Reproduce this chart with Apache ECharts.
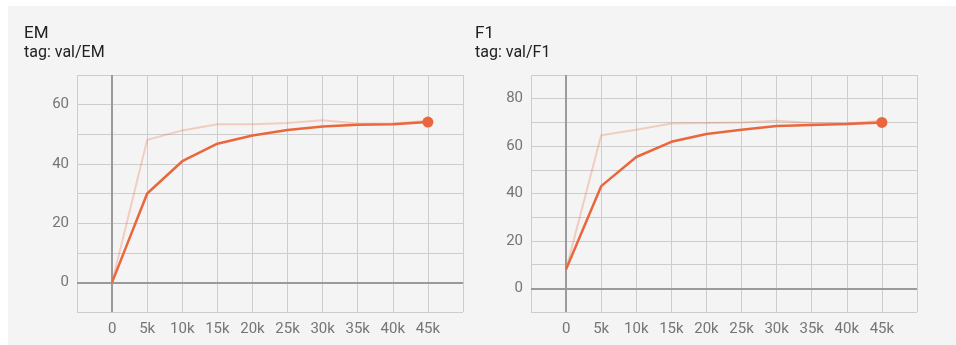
<!DOCTYPE html>
<html>
<head>
<meta charset="utf-8">
<script src="https://cdn.jsdelivr.net/npm/echarts@6/dist/echarts.min.js"></script>
<style>
html,body{margin:0;padding:0;background:#ffffff;}
#chart{width:956px;height:345px;}
</style>
</head>
<body>
<div id="chart"></div>
<script>
// ---- data ----
var steps = [0, 5000, 10000, 15000, 20000, 25000, 30000, 35000, 40000, 45000];
var emSmoothed = [0, 30.0, 40.9, 46.8, 49.6, 51.4, 52.6, 53.2, 53.4, 54.1];
var emRaw = [0, 48.1, 51.3, 53.4, 53.4, 53.8, 54.7, 53.6, 53.6, 54.6];
var f1Smoothed = [8.0, 43.1, 55.4, 61.8, 65.1, 66.9, 68.5, 68.9, 69.3, 70.0];
var f1Raw = [8.0, 64.6, 66.9, 69.5, 69.7, 70.0, 70.7, 69.7, 69.5, 70.7];
var titles = ['EM', 'F1'];
var subtitles = ['tag: val/EM', 'tag: val/F1'];
var yRanges = [[-10, 70], [-10, 90]];

function pairs(xs, ys) { return xs.map(function (x, i) { return [x, ys[i]]; }); }

var FONT = 'Roboto, "Noto Sans", sans-serif';
var lineColor = '#ea673d';
var rawColor = 'rgba(234,103,61,0.28)';
var gridColor = '#cdcdcd';
var zeroColor = '#9a9a9a';

var grids = [
  {left: 77, right: 493, top: 75, bottom: 33},
  {left: 531, right: 39, top: 75, bottom: 33}
];

function xAxisFor(i) {
  return {
    type: 'value', gridIndex: i, min: -5000, max: 50000, interval: 5000,
    axisLine: {show: false},
    axisTick: {show: true, length: 6, lineStyle: {color: gridColor}},
    splitLine: {show: true, lineStyle: {color: gridColor, width: 1}},
    axisLabel: {
      color: '#757575', fontFamily: FONT, fontSize: 15, margin: 10,
      showMinLabel: true, showMaxLabel: true,
      formatter: function (v) {
        if (v < 0 || v > 45000) return '';
        return v === 0 ? '0' : (v / 1000) + 'k';
      }
    }
  };
}
function yAxisFor(i) {
  return {
    type: 'value', gridIndex: i, min: yRanges[i][0], max: yRanges[i][1], interval: 10,
    axisLine: {show: false},
    axisTick: {show: true, length: 6, lineStyle: {color: gridColor}},
    splitLine: {show: true, lineStyle: {color: gridColor, width: 1}},
    axisLabel: {
      color: '#757575', fontFamily: FONT, fontSize: 15, margin: 8,
      formatter: function (v) { return (v % 20 === 0) ? String(v) : ''; }
    }
  };
}

var smoothedSets = [emSmoothed, f1Smoothed];
var rawSets = [emRaw, f1Raw];
var series = [];
for (var i = 0; i < 2; i++) {
  series.push({
    type: 'line', xAxisIndex: i, yAxisIndex: i, data: pairs(steps, rawSets[i]),
    showSymbol: false, symbol: 'none', silent: true,
    lineStyle: {color: rawColor, width: 2}, z: 3,
    markLine: {
      silent: true, symbol: ['none', 'none'], label: {show: false},
      lineStyle: {color: zeroColor, width: 2, type: 'solid'},
      data: [{xAxis: 0}, {yAxis: 0}], z: 2
    }
  });
  series.push({
    type: 'line', xAxisIndex: i, yAxisIndex: i, data: pairs(steps, smoothedSets[i]),
    showSymbol: false, symbol: 'none', silent: true,
    lineStyle: {color: lineColor, width: 2.5}, z: 4
  });
  var last = steps.length - 1;
  series.push({
    type: 'scatter', xAxisIndex: i, yAxisIndex: i,
    data: [[steps[last], smoothedSets[i][last]]],
    symbolSize: 11, itemStyle: {color: lineColor, opacity: 1}, silent: true, z: 5
  });
}

var chart = echarts.init(document.getElementById('chart'), null, {renderer: 'canvas'});
chart.setOption({
  animation: false,
  backgroundColor: '#ffffff',
  graphic: [{
    type: 'rect', z: -100, silent: true,
    shape: {x: 8, y: 6, width: 948, height: 339},
    style: {fill: '#f4f4f4'}
  }],
  title: [0, 1].map(function (i) {
    return {
      text: titles[i], subtext: subtitles[i],
      left: i === 0 ? 24 : 475, top: 25, padding: 0, itemGap: 3,
      textStyle: {fontFamily: FONT, fontSize: 17, fontWeight: 'normal', color: '#212121', lineHeight: 17},
      subtextStyle: {fontFamily: FONT, fontSize: 16, color: '#212121', lineHeight: 16}
    };
  }),
  grid: grids,
  xAxis: [xAxisFor(0), xAxisFor(1)],
  yAxis: [yAxisFor(0), yAxisFor(1)],
  series: series
});
</script>
</body>
</html>
